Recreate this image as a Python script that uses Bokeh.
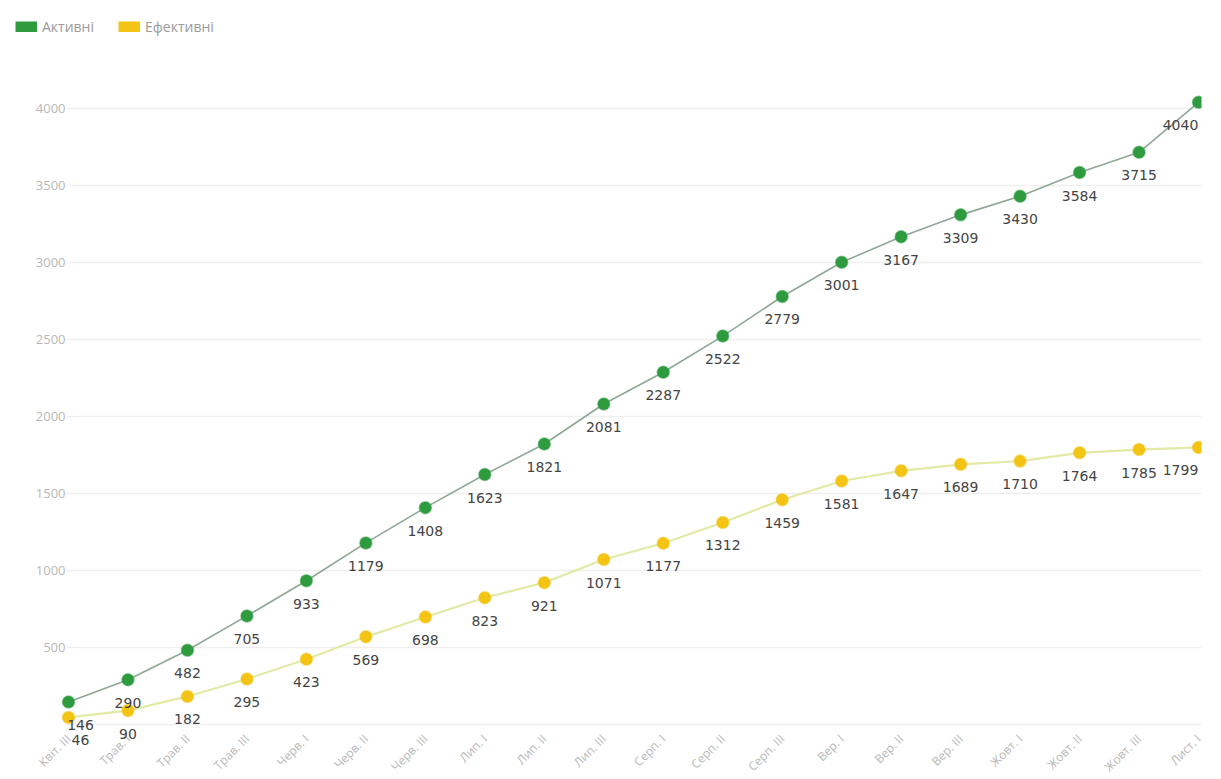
from math import pi
from bokeh.plotting import figure
from bokeh.models import (Range1d, FixedTicker, LabelSet, ColumnDataSource,
                          Legend, LegendItem)
from bokeh.core.properties import value
from bokeh.embed import file_html
from bokeh.resources import INLINE

categories = ["Квіт. III", "Трав. I", "Трав. II", "Трав. III", "Черв. I", "Черв. II",
              "Черв. III", "Лип. I", "Лип. II", "Лип. III", "Серп. I", "Серп. II",
              "Серп. III", "Вер. I", "Вер. II", "Вер. III", "Жовт. I", "Жовт. II",
              "Жовт. III", "Лист. I"]
active = [146, 290, 482, 705, 933, 1179, 1408, 1623, 1821, 2081, 2287, 2522,
          2779, 3001, 3167, 3309, 3430, 3584, 3715, 4040]
effective = [46, 90, 182, 295, 423, 569, 698, 823, 921, 1071, 1177, 1312,
             1459, 1581, 1647, 1689, 1710, 1764, 1785, 1799]
y_ticks = [0, 500, 1000, 1500, 2000, 2500, 3000, 3500, 4000]
series_names = ["Активні", "Ефективні"]

GREEN = "#2e9b3f"
YELLOW = "#f4c414"
FONT = "Open Sans"

n = len(categories)
xs = list(range(n))
X_START, X_END = -0.975, 19.05

p = figure(frame_width=1191, frame_height=740, output_backend="svg", toolbar_location=None,
           x_range=Range1d(X_START, X_END), y_range=Range1d(-182, 4623),
           min_border_left=10, min_border_right=12, min_border_top=12,
           min_border_bottom=0)
p.outline_line_color = None
p.background_fill_color = "white"

# axes
p.xaxis.ticker = FixedTicker(ticks=xs)
p.xaxis.major_label_overrides = {i: c for i, c in enumerate(categories)}
p.xaxis.major_label_orientation = pi / 4
p.yaxis.ticker = FixedTicker(ticks=y_ticks)
p.yaxis.major_label_overrides = {0: ""}
for ax in (p.xaxis, p.yaxis):
    ax.axis_line_color = None
    ax.major_tick_line_color = None
    ax.minor_tick_line_color = None
    ax.major_tick_out = 0
    ax.major_tick_in = 0
    ax.major_label_text_color = "#b8b8b8"
    ax.major_label_text_font = FONT
p.yaxis.major_label_text_font_size = "13px"
p.xaxis.major_label_text_font_size = "12px"
p.yaxis.major_label_standoff = -55
p.xaxis.major_label_standoff = -16
p.xgrid.grid_line_color = None
p.ygrid.grid_line_color = None

# horizontal grid lines, starting just left of the first category
p.segment(x0=xs[0] - 0.03, x1=X_END, y0=y_ticks, y1=y_ticks,
          line_color="#efefef", line_width=1.5, level="underlay")

def offsets(k):
    return [12 if i == 0 else (-18 if i == k - 1 else 0) for i in range(k)]

src_a = ColumnDataSource(dict(x=xs, y=active, t=[str(v) for v in active], dx=offsets(n)))
src_e = ColumnDataSource(dict(x=xs, y=effective, t=[str(v) for v in effective], dx=offsets(n)))

p.line("x", "y", source=src_e, line_color="#e3eaa6", line_width=2.2)
p.line("x", "y", source=src_a, line_color="#8ea895", line_width=1.6)
p.scatter("x", "y", source=src_e, size=12, fill_color=YELLOW, line_color=YELLOW, line_alpha=0.5, line_width=1.5)
p.scatter("x", "y", source=src_a, size=12, fill_color=GREEN, line_color=GREEN, line_alpha=0.5, line_width=1.5)

for src in (src_e, src_a):
    p.add_layout(LabelSet(x="x", y="y", text="t", source=src, x_offset="dx", y_offset=-23,
                          text_align="center", text_baseline="middle",
                          text_font=value("DejaVu Sans"), text_font_size="14px",
                          text_color="#444444"))

# legend swatches: single-point thick lines (draw nothing in the plot)
la = p.line(x=xs[:1], y=active[:1], line_color=GREEN, line_width=11, line_cap="butt")
le = p.line(x=xs[:1], y=effective[:1], line_color=YELLOW, line_width=11, line_cap="butt")
legend = Legend(items=[LegendItem(label=series_names[0], renderers=[la]),
                       LegendItem(label=series_names[1], renderers=[le])],
                orientation="horizontal", location=(5, 716),
                glyph_width=22, glyph_height=11, label_height=11, label_width=76,
                label_standoff=5, spacing=0, padding=0, margin=0,
                border_line_color=None, background_fill_alpha=0,
                label_text_font=FONT, label_text_font_size="14px",
                label_text_color="#9a9a9a", label_text_baseline="middle")
p.add_layout(legend)

open("out.html", "w").write(file_html(p, INLINE))
